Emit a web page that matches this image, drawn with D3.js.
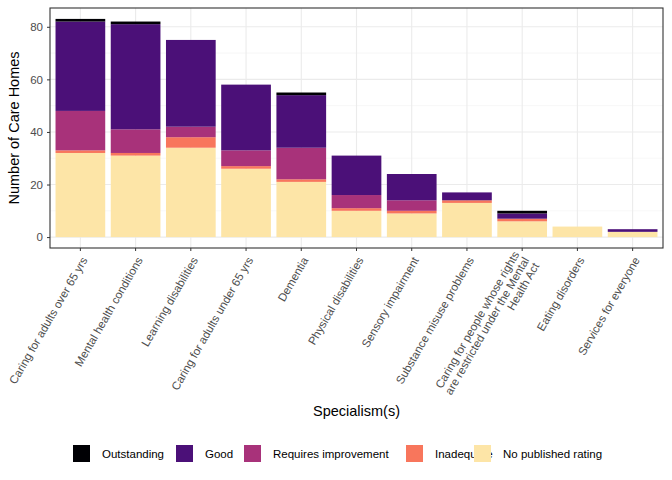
<!DOCTYPE html><html><head><script src="https://cdn.jsdelivr.net/npm/d3@7"></script>
<style>body{margin:0;background:#fff}text{font-family:"Liberation Sans",Arial,sans-serif}</style></head><body>
<svg id="c" width="672" height="480"></svg>
<script>
const categories=["Caring for adults over 65 yrs","Mental health conditions","Learning disabilities","Caring for adults under 65 yrs","Dementia","Physical disabilities","Sensory impairment","Substance misuse problems","Caring for people whose rights|are restricted under the Mental|Health Act","Eating disorders","Services for everyone"];
const ratings=["No published rating","Inadequate","Requires improvement","Good","Outstanding"];
const noPublished=[32,31,34,26,21,10,9,13,6,4,2];
const inadequate=[1,1,4,1,1,1,1,1,1,0,0];
const requiresImprovement=[15,9,4,6,12,5,4,0,0,0,0];
const good=[34,40,33,25,20,15,10,3,2,0,1];
const outstanding=[1,1,0,0,1,0,0,0,1,0,0];
const colors={"Outstanding":"#000004","Good":"#4b1078","Requires improvement":"#a8327a","Inadequate":"#f8765c","No published rating":"#fde5a7"};
const yTicks=[0,20,40,60,80];
const series=[noPublished,inadequate,requiresImprovement,good,outstanding];
const data=categories.map((c,i)=>{const o={cat:c};ratings.forEach((r,j)=>o[r]=series[j][i]);return o;});
const stack=d3.stack().keys(ratings)(data);
const svg=d3.select("#c");
const L=50,R=663,T=8,B=248;
const x=d3.scaleBand().domain(categories).range([L,R]).padding(0.1);
const y=d3.scaleLinear().domain([-4.15,87.15]).range([B,T]);
const g=svg.append("g");
[10,30,50,70].forEach(v=>g.append("line").attr("x1",L).attr("x2",R).attr("y1",y(v)).attr("y2",y(v)).attr("stroke","#f2f2f2").attr("stroke-width",0.6));
yTicks.forEach(v=>g.append("line").attr("x1",L).attr("x2",R).attr("y1",y(v)).attr("y2",y(v)).attr("stroke","#ebebeb").attr("stroke-width",1.1));
categories.forEach(c=>g.append("line").attr("x1",x(c)+x.bandwidth()/2).attr("x2",x(c)+x.bandwidth()/2).attr("y1",T).attr("y2",B).attr("stroke","#ebebeb").attr("stroke-width",1.1));
stack.forEach(s=>{g.selectAll(null).data(s).enter().append("rect").attr("x",d=>x(d.data.cat)).attr("width",x.bandwidth()).attr("y",d=>y(d[1])).attr("height",d=>y(d[0])-y(d[1])).attr("fill",colors[s.key]);});
g.append("rect").attr("x",L).attr("y",T).attr("width",R-L).attr("height",B-T).attr("fill","none").attr("stroke","#333").attr("stroke-width",1.1);
const ya=svg.append("g").attr("transform",`translate(${L},0)`).call(d3.axisLeft(y).tickValues(yTicks).tickSize(3).tickPadding(4));
ya.select(".domain").remove();ya.selectAll("line").attr("stroke","#333");ya.selectAll("text").attr("fill","#4d4d4d").style("font-size","11.5px");
const xa=svg.append("g").attr("transform",`translate(0,${B})`).call(d3.axisBottom(x).tickSize(3).tickFormat(""));
xa.select(".domain").remove();xa.selectAll("line").attr("stroke","#333");
categories.forEach(c=>{const lines=c.split("|");const cx=x(c)+x.bandwidth()/2+4,cy=B+10;
 const t=svg.append("text").attr("transform",`translate(${cx},${cy}) rotate(-60)`).attr("text-anchor","end").attr("fill","#4d4d4d").style("font-size","11.5px");
 lines.forEach((l,i)=>t.append("tspan").attr("x",0).attr("dy",i==0?(-(lines.length-1)*11.5*0.5+4)+"px":"11.5px").text(l));});
svg.append("text").attr("transform",`translate(19,${(T+B)/2}) rotate(-90)`).attr("text-anchor","middle").style("font-size","14.5px").text("Number of Care Homes");
svg.append("text").attr("x",(L+R)/2).attr("y",416).attr("text-anchor","middle").style("font-size","14.5px").text("Specialism(s)");
const leg=[["Outstanding",73],["Good",176],["Requires improvement",244],["Inadequate",406],["No published rating",474]];
leg.forEach(([k,px])=>{svg.append("rect").attr("x",px).attr("y",445).attr("width",17).attr("height",17).attr("fill",colors[k]);
 svg.append("text").attr("x",px+29).attr("y",458).style("font-size","11.5px").text(k);});
</script></body></html>
